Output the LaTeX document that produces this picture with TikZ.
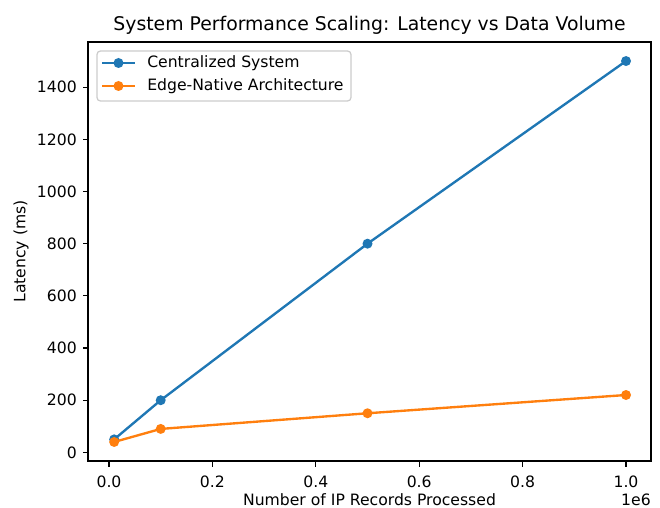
\documentclass[tikz,border=0pt]{standalone}
\usepackage{fontspec}
\setmainfont{DejaVu Sans}
\definecolor{cblue}{HTML}{1F77B4}
\definecolor{corange}{HTML}{FF7F0E}

\begin{document}
\begin{tikzpicture}[x=0.72bp,y=-0.72bp,font=\fontsize{11.3}{13.5}\selectfont,
  series/.style={line width=1.7bp},
  dot/.style={circle,fill,inner sep=0pt,minimum size=7.2bp},
  tick/.style={line width=0.9bp}]
\useasboundingbox (0,0) rectangle (660,508);

% axes frame and ticks
\draw [line width=0.9bp] (88,42) rectangle (651,461);
\foreach \i/\l in {0/0.0,1/0.2,2/0.4,3/0.6,4/0.8,5/1.0} {
  \draw [tick] (109+103.4*\i,461) -- ++(0,5.5);
  \node [below,inner sep=0pt] at (109+103.4*\i,476) {\l};
}
\foreach \v in {0,200,...,1400} {
  \draw [tick] (88,452.4-0.2609*\v) -- ++(-5.5,0);
  \node [left,inner sep=0pt] at (77,452.4-0.2609*\v) {\v};
}
\node [anchor=base east,inner sep=0pt] at (651,505) {1e6};

\node [anchor=base,inner sep=0pt] at (369.5,505) {Number of IP Records Processed};
\node [rotate=90,inner sep=0pt] at (21,251.5) {Latency (ms)};
\node [inner sep=0pt,font=\fontsize{13.6}{16}\selectfont] at (369.5,25) {System Performance Scaling: Latency vs Data Volume};

% data
\begin{scope}[shift={(109,452.4)},x=372.24bp,y=0.18785bp]
\coordinate (c1) at (0.01,50);
\coordinate (c2) at (0.1,200);
\coordinate (c3) at (0.5,800);
\coordinate (c4) at (1.0,1500);
\coordinate (e1) at (0.01,40);
\coordinate (e2) at (0.1,90);
\coordinate (e3) at (0.5,150);
\coordinate (e4) at (1.0,220);
\draw [series,cblue] (c1) -- (c2) -- (c3) -- (c4);
\foreach \p in {c1,c2,c3,c4} \node [dot,cblue] at (\p) {};
\draw [series,corange] (e1) -- (e2) -- (e3) -- (e4);
\foreach \p in {e1,e2,e3,e4} \node [dot,corange] at (\p) {};
\end{scope}

% legend
\draw [rounded corners=2.5bp,draw=black!20,fill=white,fill opacity=0.8,line width=0.9bp] (97,51) rectangle (351,101);
\draw [series,cblue] (102,63) -- (135,63); \node [dot,cblue] at (118.5,63) {};
\node [right,inner sep=0pt] at (147,63) {Centralized System};
\draw [series,corange] (102,86) -- (135,86); \node [dot,corange] at (118.5,86) {};
\node [right,inner sep=0pt] at (147,86) {Edge-Native Architecture};

\end{tikzpicture}
\end{document}
